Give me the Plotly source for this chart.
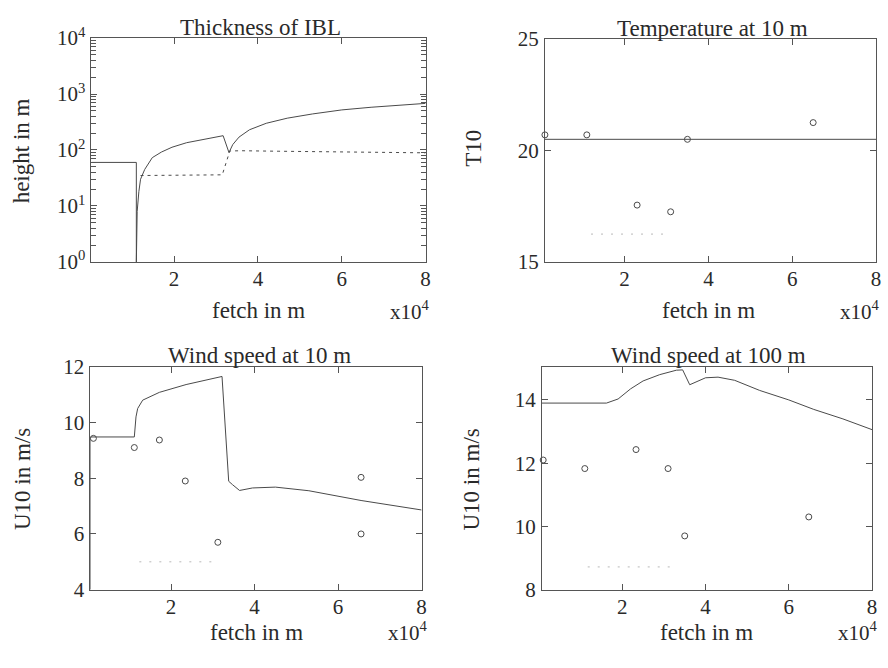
import plotly.graph_objects as go

# ---------------- data ----------------
# Thickness of IBL (fetch in m, height in m)
ibl_x = [300, 11000, 11000, 11200, 11600, 12000, 13000, 14800, 17000, 19500, 23000, 27000,
         31700, 33100, 34000, 35500, 38000, 42000, 47000, 53000, 60000, 67000, 74000, 80000]
ibl_h = [60, 60, 1, 8, 18, 30, 45, 73, 92, 112, 135, 152,
         180, 90, 125, 170, 230, 300, 370, 440, 520, 580, 630, 680]
ibl2_x = [12000, 31500, 33300, 36000, 45000, 55000, 65000, 80000]
ibl2_h = [35, 36, 96, 97, 95, 93, 91, 89]

# Temperature at 10 m
t_line_x = [1000, 80000]
t_line_y = [20.5, 20.5]
t_obs_x = [1000, 11000, 23000, 31000, 35000, 65000]
t_obs_y = [20.7, 20.7, 17.55, 17.25, 20.5, 21.25]
t_faint_x = [12000, 29300]
t_faint_y = [16.25, 16.25]

# Wind speed at 10 m
u10_x = [700, 700, 11200, 11600, 12000, 13200, 17200, 23600, 32200, 33800, 34700, 36400,
         39500, 45000, 53000, 65500, 80000]
u10_y = [4, 9.48, 9.48, 10.2, 10.5, 10.8, 11.08, 11.36, 11.65, 7.89, 7.77, 7.56,
         7.65, 7.68, 7.55, 7.2, 6.86]
u10_obs_x = [1400, 11200, 17200, 23400, 31200, 65500, 65500]
u10_obs_y = [9.43, 9.1, 9.37, 7.9, 5.7, 8.03, 6.0]
u10_faint_x = [12400, 31200]
u10_faint_y = [5.0, 5.0]

# Wind speed at 100 m
u100_x = [700, 16200, 19000, 22000, 25000, 29000, 33000, 34500, 36200, 40000, 43000, 47000,
          53000, 60000, 66000, 73000, 80000]
u100_y = [13.9, 13.9, 14.03, 14.35, 14.6, 14.8, 14.94, 14.95, 14.48, 14.7, 14.72, 14.62,
          14.3, 14.0, 13.7, 13.4, 13.06]
u100_obs_x = [1000, 11000, 23300, 31000, 35000, 64800]
u100_obs_y = [12.1, 11.83, 12.43, 11.83, 9.7, 10.3]
u100_faint_x = [11700, 31900]
u100_faint_y = [8.72, 8.72]

x_tickvals = [20000, 40000, 60000, 80000]
x_ticktext = ["2", "4", "6", "8"]
log_tickvals = [1, 10, 100, 1000, 10000]
log_ticktext = ["10<sup>0</sup>", "10<sup>1</sup>", "10<sup>2</sup>", "10<sup>3</sup>", "10<sup>4</sup>"]
log_minor = [m * d for d in [1, 10, 100, 1000] for m in range(2, 10)]
titles = ["Thickness of IBL", "Temperature at 10 m", "Wind speed at 10 m", "Wind speed at 100 m"]
ylabels = ["height in m", "T10", "U10 in m/s", "U10 in m/s"]
xlabel = "fetch in m"

# ---------------- styling ----------------
W, H = 888, 668
LC = "#4a4a4a"
FONT = "Liberation Serif, 'Times New Roman', 'DejaVu Serif', serif"
TXT = "#2a2a2a"
AXC = "#555555"

def px(x):
    return x / W

def py(y):
    return 1 - y / H

# axes boxes in pixels: (left, right, top, bottom)
boxes = [(92, 428, 25, 258), (548, 881, 26, 258), (91, 424, 367, 599), (545, 877, 367, 599)]

fig = go.Figure()

line_style = dict(color=LC, width=1)
mk = dict(symbol="circle-open", size=6, color=LC, line=dict(color=LC, width=1))
faint = dict(color="#b8b8b8", width=1, dash="2px,8px")

# plot 1
fig.add_trace(go.Scatter(x=ibl_x, y=ibl_h, mode="lines", line=line_style, xaxis="x", yaxis="y"))
fig.add_trace(go.Scatter(x=ibl2_x, y=ibl2_h, mode="lines", line=dict(color=LC, width=1, dash="3px,4px"),
                         xaxis="x", yaxis="y"))
# plot 2
fig.add_trace(go.Scatter(x=t_line_x, y=t_line_y, mode="lines", line=line_style, xaxis="x2", yaxis="y2"))
fig.add_trace(go.Scatter(x=t_obs_x, y=t_obs_y, mode="markers", marker=mk, cliponaxis=False,
                         xaxis="x2", yaxis="y2"))
fig.add_trace(go.Scatter(x=t_faint_x, y=t_faint_y, mode="lines", line=faint, xaxis="x2", yaxis="y2"))
# plot 3
fig.add_trace(go.Scatter(x=u10_x, y=u10_y, mode="lines", line=line_style, xaxis="x3", yaxis="y3"))
fig.add_trace(go.Scatter(x=u10_obs_x, y=u10_obs_y, mode="markers", marker=mk, cliponaxis=False,
                         xaxis="x3", yaxis="y3"))
fig.add_trace(go.Scatter(x=u10_faint_x, y=u10_faint_y, mode="lines", line=faint, xaxis="x3", yaxis="y3"))
# plot 4
fig.add_trace(go.Scatter(x=u100_x, y=u100_y, mode="lines", line=line_style, xaxis="x4", yaxis="y4"))
fig.add_trace(go.Scatter(x=u100_obs_x, y=u100_obs_y, mode="markers", marker=mk, cliponaxis=False,
                         xaxis="x4", yaxis="y4"))
fig.add_trace(go.Scatter(x=u100_faint_x, y=u100_faint_y, mode="lines", line=faint, xaxis="x4", yaxis="y4"))

tickfont = dict(family=FONT, size=21, color=TXT)
common = dict(showline=True, linecolor=AXC, linewidth=1, mirror="ticks", ticks="inside",
              ticklen=6, tickcolor=AXC, tickwidth=1, showgrid=False, zeroline=False, tickfont=tickfont)

x_ranges = [[300, 80000], [1000, 80000], [700, 80000], [700, 80000]]
y_specs = [
    dict(type="log", range=[0, 4], tickvals=log_tickvals, ticktext=log_ticktext),
    dict(range=[15, 25], tickvals=[15, 20, 25]),
    dict(range=[4, 12], tickvals=[4, 6, 8, 10, 12]),
    dict(range=[8, 15.05], tickvals=[8, 10, 12, 14]),
]

layout = dict(width=W, height=H, margin=dict(l=0, r=0, t=0, b=0), paper_bgcolor="white",
              plot_bgcolor="white", showlegend=False, font=dict(family=FONT, color=TXT))
for i, (l, r, t, b) in enumerate(boxes):
    sfx = "" if i == 0 else str(i + 1)
    layout["xaxis" + sfx] = dict(domain=[px(l), px(r)], range=x_ranges[i], tickvals=x_tickvals,
                                 ticktext=x_ticktext, anchor="y" + sfx, ticklabelstandoff=-2, **common)
    layout["yaxis" + sfx] = dict(domain=[py(b), py(t)], anchor="x" + sfx, ticklabelstandoff=1,
                                 **common, **y_specs[i])
# overlay axis carrying the minor ticks of the log axis
l, r, t, b = boxes[0]
layout["yaxis5"] = dict(domain=[py(b), py(t)], anchor="x", overlaying="y", type="log", range=[0, 4],
                        tickmode="array", tickvals=log_minor, showticklabels=False, ticks="inside",
                        ticklen=5, tickcolor=AXC, tickwidth=1, mirror="ticks", showline=True,
                        linecolor=AXC, showgrid=False, zeroline=False)
fig.update_layout(**layout)
# invisible trace so the overlay axis is drawn
fig.add_trace(go.Scatter(x=[ibl_x[0]], y=[ibl_h[0]], mode="markers", marker=dict(opacity=0),
                         xaxis="x", yaxis="y5", hoverinfo="skip"))

ann = []
title_pos = [(262, 14), (717, 15), (261, 355), (713, 355)]
ylab_pos = [(22, 142), (476, 140), (22, 484), (474, 484)]
xlab_pos = [(260, 309), (713, 309), (258, 644), (711, 644)]
exp_pos = [(412, 308), (865, 308), (410, 643), (863, 643)]
for i in range(4):
    ann.append(dict(text=titles[i], x=px(title_pos[i][0]), y=py(title_pos[i][1]), xref="paper",
                    yref="paper", showarrow=False, xanchor="center", yanchor="middle",
                    font=dict(family=FONT, size=23, color=TXT)))
    ann.append(dict(text=ylabels[i], x=px(ylab_pos[i][0]), y=py(ylab_pos[i][1]), xref="paper",
                    yref="paper", showarrow=False, xanchor="center", yanchor="middle", textangle=-90,
                    font=dict(family=FONT, size=23, color=TXT)))
    ann.append(dict(text=xlabel, x=px(xlab_pos[i][0]), y=py(xlab_pos[i][1]), xref="paper",
                    yref="paper", showarrow=False, xanchor="center", yanchor="middle",
                    font=dict(family=FONT, size=23, color=TXT)))
    ann.append(dict(text="x10<sup>4</sup>", x=px(exp_pos[i][0]), y=py(exp_pos[i][1]), xref="paper",
                    yref="paper", showarrow=False, xanchor="center", yanchor="middle",
                    font=dict(family=FONT, size=21, color=TXT)))
fig.update_layout(annotations=ann)

fig.write_html("out.html")
